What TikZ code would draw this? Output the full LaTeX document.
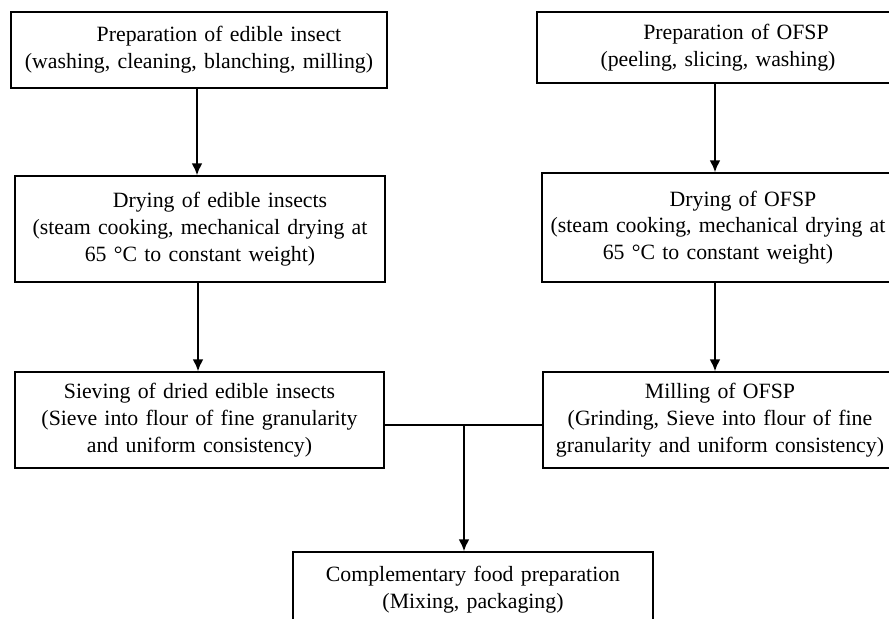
\documentclass[tikz,border=0pt]{standalone}
\usepackage{fontspec}
\setmainfont{Liberation Serif}
\usepackage{tikz}
\usetikzlibrary{positioning, shapes, arrows.meta}

\tikzset{
  procbox/.style={draw, line width=0.7pt, align=center, inner sep=0pt,
    font=\fontsize{10.9}{13.4}\selectfont},
  flow/.style={line width=1pt, -{Latex[length=6pt,width=5.5pt]}}
}

\begin{document}
\begin{tikzpicture}[x=0.5pt, y=-0.5pt]
\useasboundingbox (0,0) rectangle (889,619);
\clip (0,0) rectangle (889,619);
% left column: edible insects
\node (insprep)[procbox, text width=188pt, minimum height=38pt] at (199,50)
  {\hspace*{20pt}Preparation of edible insect\\(washing, cleaning, blanching, milling)};
\node (insdry)[procbox, text width=185pt, minimum height=53pt] at (200,229)
  {\hspace*{20pt}Drying of edible insects\\(steam cooking, mechanical drying at\\65 °C to constant weight)};
\node (inssieve)[procbox, text width=184.5pt, minimum height=48pt] at (199.5,420)
  {Sieving of dried edible insects\\(Sieve into flour of fine granularity\\and uniform consistency)};
% right column: OFSP
\node (ofspprep)[procbox, text width=181pt, minimum height=35.5pt] at (718,47.5)
  {\hspace*{18pt}Preparation of OFSP\\(peeling, slicing, washing)};
\node (ofspdry)[procbox, text width=176pt, minimum height=54.5pt] at (718,227.5)
  {\hspace*{25pt}Drying of OFSP\\(steam cooking, mechanical drying at\\65 °C to constant weight)};
\node (ofspmill)[procbox, text width=177pt, minimum height=48pt] at (720,420)
  {Milling of OFSP\\(Grinding, Sieve into flour of fine\\granularity and uniform consistency)};
% final step
\node (food)[procbox, text width=180pt, minimum height=38pt] at (473,590)
  {Complementary food preparation\\(Mixing, packaging)};

\draw [flow] (insprep.south -| 197,0) -- (insdry.north -| 197,0);
\draw [flow] (insdry.south -| 198,0) -- (inssieve.north -| 198,0);
\draw [flow] (ofspprep.south -| 715,0) -- (ofspdry.north -| 715,0);
\draw [flow] (ofspdry.south -| 715,0) -- (ofspmill.north -| 715,0);
\coordinate (join) at (464,425);
\draw [line width=1pt] (inssieve.east |- join) -- (ofspmill.west |- join);
\draw [flow] (join) -- (join |- food.north);
\end{tikzpicture}
\end{document}
